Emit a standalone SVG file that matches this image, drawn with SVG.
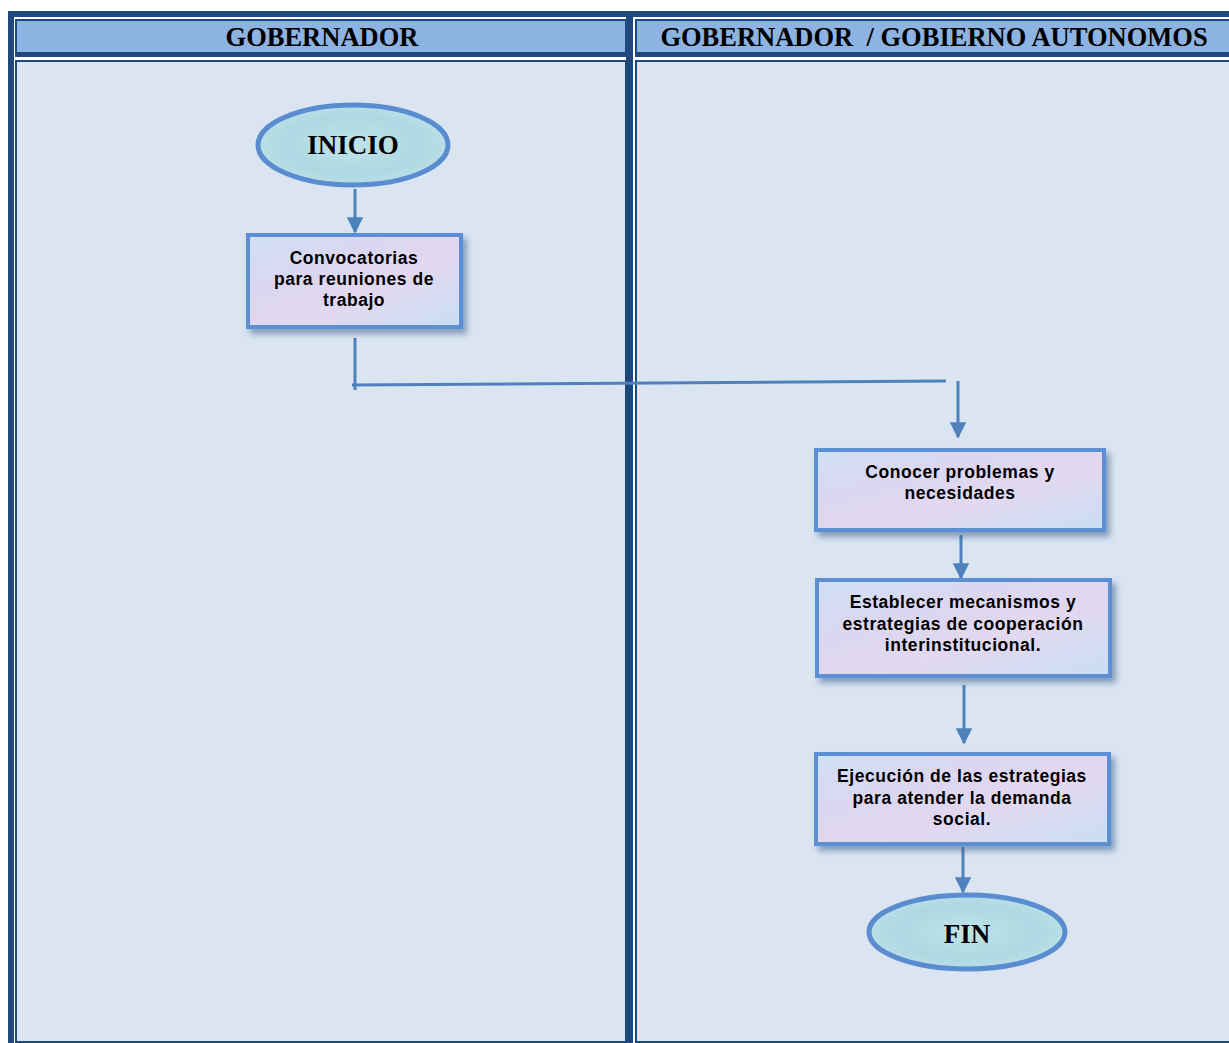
<svg xmlns="http://www.w3.org/2000/svg" width="1229" height="1043" viewBox="0 0 1229 1043">
<defs>
<style>
.frame{fill:#1F497D}
.hcell{fill:#8DB3E2;stroke:#1F497D;stroke-width:2}
.bcell{fill:#DBE5F1;stroke:#1F497D;stroke-width:2}
.htxt{font-family:"Liberation Serif","Times New Roman",serif;font-weight:bold;font-size:26.5px;fill:#000;text-anchor:middle}
.box{fill:url(#boxfill);stroke:#5B8FD3;stroke-width:4;filter:url(#shadow)}
.term{fill:url(#termfill);stroke:#5A8CD0;stroke-width:5}
.btxt{font-family:"Liberation Sans",Arial,sans-serif;font-weight:bold;font-size:17.5px;letter-spacing:0.55px;fill:#000;text-anchor:middle}
.ttxt{font-family:"Liberation Serif","Times New Roman",serif;font-weight:bold;font-size:27px;fill:#000;text-anchor:middle}
.conn{fill:none;stroke:#4F81BD;stroke-width:3}
</style>
<linearGradient id="boxfill" x1="0" y1="0" x2="1" y2="1">
<stop offset="0" stop-color="#CFE0F4"/>
<stop offset="0.35" stop-color="#DCD6F0"/>
<stop offset="0.6" stop-color="#E2D8F0"/>
<stop offset="1" stop-color="#C9DEF3"/>
</linearGradient>
<radialGradient id="termfill" cx="0.5" cy="0.5" r="0.6">
<stop offset="0" stop-color="#BFE3EA"/>
<stop offset="0.6" stop-color="#AED8E2"/>
<stop offset="1" stop-color="#C2E4EC"/>
</radialGradient>
<filter id="shadow" x="-10%" y="-15%" width="125%" height="140%">
<feDropShadow dx="4" dy="5" stdDeviation="3" flood-color="#3A5F8F" flood-opacity="0.55"/>
</filter>
<marker id="arrow" viewBox="0 0 10 10" refX="9" refY="5" markerWidth="6" markerHeight="5.5" orient="auto" markerUnits="strokeWidth">
<path d="M0,0 L10,5 L0,10 Z" fill="#4F81BD"/>
</marker>
</defs>
<rect width="1229" height="1043" fill="#FFFFFF"/>
<g id="table">
<rect class="frame" x="8" y="11" width="1221" height="6"/>
<rect class="frame" x="8" y="11" width="6" height="1032"/>
<rect class="frame" x="626" y="17" width="7" height="1026"/>
<rect class="hcell" x="16" y="20" width="610" height="36"/>
<rect class="frame" x="15" y="52" width="612" height="5"/>
<rect class="hcell" x="636" y="20" width="594" height="36"/>
<rect class="frame" x="635" y="52" width="594" height="5"/>
<rect class="bcell" x="16" y="61" width="610" height="981"/>
<rect class="bcell" x="636" y="61" width="594" height="981"/>
<text class="htxt" x="322" y="46">GOBERNADOR</text>
<text class="htxt" x="934" y="46" xml:space="preserve">GOBERNADOR  / GOBIERNO AUTONOMOS</text>
</g>
<g id="connectors">
<line class="conn" x1="355" y1="189" x2="355" y2="232" marker-end="url(#arrow)"/>
<line class="conn" x1="355" y1="338" x2="355" y2="390"/>
<line class="conn" x1="352" y1="385" x2="946" y2="381"/>
<line class="conn" x1="958" y1="381" x2="958" y2="437" marker-end="url(#arrow)"/>
<line class="conn" x1="961" y1="535" x2="961" y2="578" marker-end="url(#arrow)"/>
<line class="conn" x1="964" y1="685" x2="964" y2="743" marker-end="url(#arrow)"/>
<line class="conn" x1="963" y1="847" x2="963" y2="892" marker-end="url(#arrow)"/>
</g>
<g id="inicio">
<ellipse class="term" cx="353" cy="145" rx="95" ry="40"/>
<text class="ttxt" x="353" y="154">INICIO</text>
</g>
<g id="convocatorias">
<rect class="box" x="248" y="235" width="213" height="92"/>
<text class="btxt" x="354" y="264">Convocatorias</text>
<text class="btxt" x="354" y="285">para reuniones de</text>
<text class="btxt" x="354" y="306">trabajo</text>
</g>
<g id="conocer">
<rect class="box" x="816" y="450" width="288" height="80"/>
<text class="btxt" x="960" y="478">Conocer problemas y</text>
<text class="btxt" x="960" y="499">necesidades</text>
</g>
<g id="establecer">
<rect class="box" x="817" y="580" width="293" height="96"/>
<text class="btxt" x="963" y="608">Establecer mecanismos y</text>
<text class="btxt" x="963" y="630">estrategias de cooperación</text>
<text class="btxt" x="963" y="651">interinstitucional.</text>
</g>
<g id="ejecucion">
<rect class="box" x="816" y="754" width="293" height="90"/>
<text class="btxt" x="962" y="782">Ejecución de las estrategias</text>
<text class="btxt" x="962" y="804">para atender la demanda</text>
<text class="btxt" x="962" y="825">social.</text>
</g>
<g id="fin">
<ellipse class="term" cx="967" cy="932" rx="98" ry="37"/>
<text class="ttxt" x="967" y="943">FIN</text>
</g>
</svg>
